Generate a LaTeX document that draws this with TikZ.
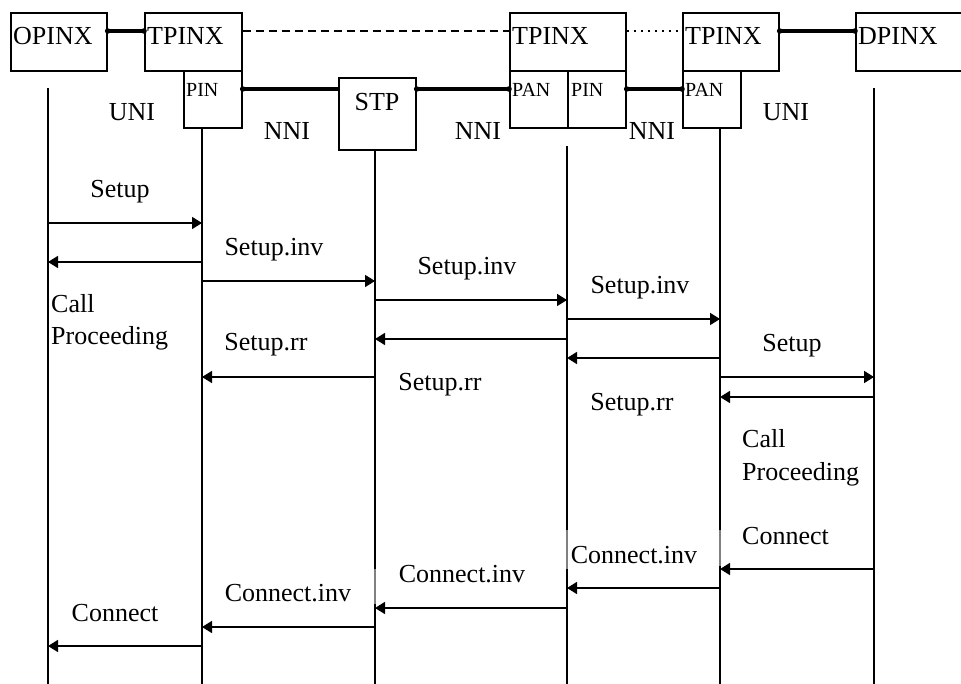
\documentclass[tikz,border=0pt]{standalone}
\usepackage{fontspec}
\setmainfont{Liberation Serif}
\usetikzlibrary{arrows.meta}
\begin{document}
\begin{tikzpicture}[x=1pt,y=-1pt,
  boxnode/.style={draw, line width=1.7pt, anchor=north west, inner sep=0pt},
  lbl/.style={inner sep=0pt, anchor=base, font=\fontsize{26}{31}\selectfont},
  lblw/.style={lbl, anchor=base west},
  small/.style={inner sep=0pt, anchor=base west, font=\fontsize{20}{24}\selectfont},
  link/.style={line width=4pt},
  life/.style={line width=1.7pt},
  faint/.style={draw=white, line width=1.8pt, postaction={draw=black!50, line width=1.1pt}},
  msg/.style={line width=1.6pt, -{Triangle[length=10pt,width=12pt]}}]
\useasboundingbox (0,0) rectangle (961,684);
% boxes
\node[boxnode, minimum width=96pt, minimum height=58pt] (opinx) at (10,12) {};
\node[boxnode, minimum width=97pt, minimum height=58pt] (tp1) at (144,12) {};
\node[boxnode, minimum width=58pt, minimum height=57pt] (pin1) at (183,70) {};
\node[boxnode, minimum width=77pt, minimum height=72pt] (stp) at (338,77) {};
\node[boxnode, minimum width=116pt, minimum height=58pt] (tp2) at (509,12) {};
\node[boxnode, minimum width=58pt, minimum height=57pt] (pan2) at (509,70) {};
\node[boxnode, minimum width=58pt, minimum height=57pt] (pin2) at (567,70) {};
\node[boxnode, minimum width=96pt, minimum height=58pt] (tp3) at (682,12) {};
\node[boxnode, minimum width=58pt, minimum height=57pt] (pan3) at (682,70) {};
\node[boxnode, minimum width=115pt, minimum height=58pt] (dpinx) at (855,12) {};
% box texts
\node[lblw] (t-opinx) at (13,45) {OPINX};
\node[lblw] (t-tp1) at (147,45) {TPINX};
\node[lblw] (t-tp2) at (512,45) {TPINX};
\node[lblw] (t-tp3) at (685,45) {TPINX};
\node[lblw] (t-dpinx) at (858,45) {DPINX};
\node[small] (t-pin1) at (186,97) {PIN};
\node[small] (t-pan2) at (512,97) {PAN};
\node[small] (t-pin2) at (571,97) {PIN};
\node[small] (t-pan3) at (685,97) {PAN};
\node[lbl] (t-stp) at (377,111) {STP};
% interface labels
\node[lbl] (uni1) at (132,121) {UNI};
\node[lbl] (nni1) at (287,140) {NNI};
\node[lbl] (nni2) at (478,140) {NNI};
\node[lbl] (nni3) at (652,140) {NNI};
\node[lbl] (uni2) at (786,121) {UNI};
% links between boxes
\draw[link] (opinx.east |- 0,31) -- (tp1.west |- 0,31);
\fill (opinx.east |- 0,31) circle[radius=2.8pt] (tp1.west |- 0,31) circle[radius=2.8pt];
\draw[line width=1.6pt, dash pattern=on 8pt off 5pt] (tp1.east |- 0,31) -- (tp2.west |- 0,31);
\draw[line width=1.6pt, dash pattern=on 2pt off 5pt] (tp2.east |- 0,31) -- (tp3.west |- 0,31);
\draw[link] (tp3.east |- 0,31) -- (dpinx.west |- 0,31);
\fill (tp3.east |- 0,31) circle[radius=2.8pt] (dpinx.west |- 0,31) circle[radius=2.8pt];
\draw[link] (pin1.east |- 0,89) -- (stp.west |- 0,89);
\fill (pin1.east |- 0,89) circle[radius=2.8pt];
\draw[link] (stp.east |- 0,89) -- (pan2.west |- 0,89);
\fill (stp.east |- 0,89) circle[radius=2.8pt] (pan2.west |- 0,89) circle[radius=2.8pt];
\draw[link] (pin2.east |- 0,89) -- (pan3.west |- 0,89);
\fill (pin2.east |- 0,89) circle[radius=2.8pt] (pan3.west |- 0,89) circle[radius=2.8pt];
% lifelines
\coordinate (a) at (48,0);
\coordinate (b) at (202,0);
\coordinate (c) at (375,0);
\coordinate (d) at (567,0);
\coordinate (e) at (720,0);
\coordinate (f) at (874,0);
\draw[life] (a |- 0,88) -- (a |- 0,690);
\draw[life] (b |- pin1.south) -- (b |- 0,690);
\draw[life] (c |- stp.south) -- (c |- 0,690);
\draw[life] (d |- 0,146) -- (d |- 0,690);
\draw[life] (e |- pan3.south) -- (e |- 0,690);
\draw[life] (f |- 0,88) -- (f |- 0,690);
% faint stretches of lifelines behind labels
\path[faint] (c |- 0,569) -- (c |- 0,604);
\path[faint] (d |- 0,530) -- (d |- 0,569);
\path[faint] (e |- 0,530) -- (e |- 0,566);
% messages
\draw[msg] (a |- 0,223) -- (b |- 0,223);
\node[lbl] (m1) at (120,198) {Setup};
\draw[msg] (b |- 0,262) -- (a |- 0,262);
\draw[msg] (b |- 0,281) -- (c |- 0,281);
\node[lbl] (m2) at (274,256) {Setup.inv};
\draw[msg] (c |- 0,300) -- (d |- 0,300);
\node[lbl] (m3) at (467,275) {Setup.inv};
\draw[msg] (d |- 0,319) -- (e |- 0,319);
\node[lbl] (m4) at (640,294) {Setup.inv};
\draw[msg] (d |- 0,339) -- (c |- 0,339);
\draw[msg] (e |- 0,358) -- (d |- 0,358);
\draw[msg] (c |- 0,377) -- (b |- 0,377);
\node[lbl] (m5) at (266,351) {Setup.rr};
\node[lbl] (m6) at (440,391) {Setup.rr};
\draw[msg] (e |- 0,377) -- (f |- 0,377);
\node[lbl] (m7) at (792,352) {Setup};
\draw[msg] (f |- 0,397) -- (e |- 0,397);
\node[lbl] (m8) at (632,410) {Setup.rr};
\node[lblw] (cp1a) at (51,313) {Call};
\node[lblw] (cp1b) at (51,345) {Proceeding};
\node[lblw] (cp2a) at (742,447) {Call};
\node[lblw] (cp2b) at (742,480) {Proceeding};
\node[lblw] (m9) at (742,544) {Connect};
\draw[msg] (f |- 0,569) -- (e |- 0,569);
\node[lbl] (m10) at (634,563) {Connect.inv};
\draw[msg] (e |- 0,588) -- (d |- 0,588);
\node[lbl] (m11) at (462,582) {Connect.inv};
\draw[msg] (d |- 0,608) -- (c |- 0,608);
\node[lbl] (m12) at (288,601) {Connect.inv};
\draw[msg] (c |- 0,627) -- (b |- 0,627);
\node[lbl] (m13) at (115,621) {Connect};
\draw[msg] (b |- 0,646) -- (a |- 0,646);
\end{tikzpicture}
\end{document}
